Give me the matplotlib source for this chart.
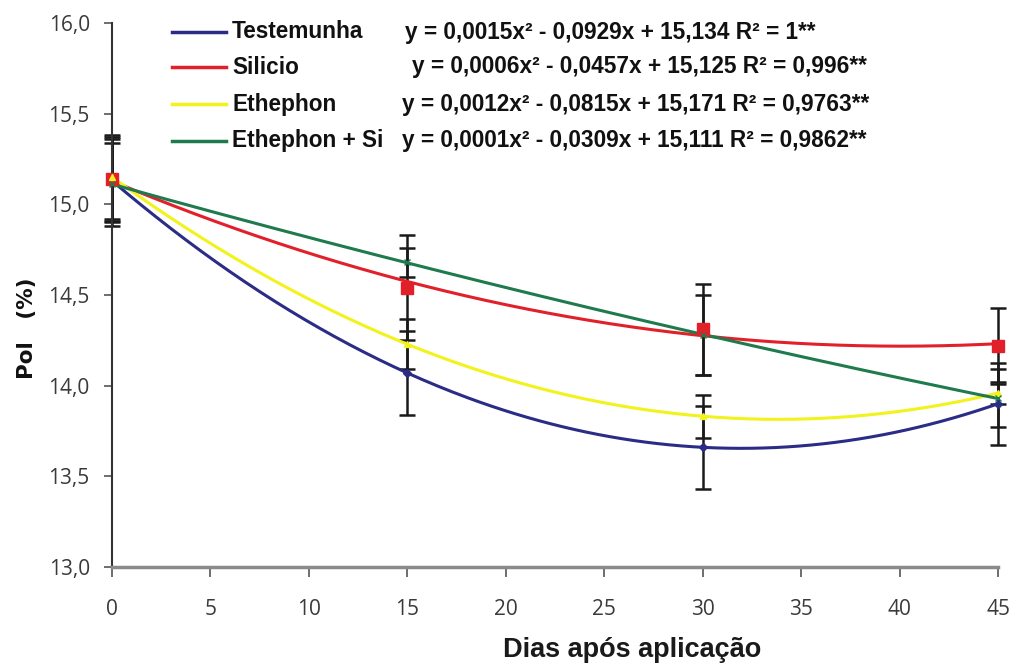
import numpy as np
import matplotlib
matplotlib.use("Agg")
import matplotlib.pyplot as plt
from matplotlib.ticker import FuncFormatter

# Sampling days and mean Pol (%) per treatment
days = [0, 15, 30, 45]
series_names = ["Testemunha", "Silicio", "Ethephon", "Ethephon + Si"]
pol_testemunha = [15.13, 14.07, 13.66, 13.90]
pol_silicio = [15.14, 14.54, 14.31, 14.22]
pol_ethephon = [15.15, 14.23, 13.83, 13.96]
pol_ethephon_si = [15.11, 14.68, 14.28, 13.93]

# Standard deviations drawn as error bars
err_testemunha = [0.23, 0.23, 0.23, 0.225]
err_silicio = [0.23, 0.29, 0.25, 0.21]
err_ethephon = [0.23, 0.14, 0.12, 0.06]
err_ethephon_si = [0.23, 0.08, 0.22, 0.16]

equations = [
    "y = 0,0015x² - 0,0929x + 15,134 R² = 1**",
    "y = 0,0006x² - 0,0457x + 15,125 R² = 0,996**",
    "y = 0,0012x² - 0,0815x + 15,171 R² = 0,9763**",
    "y = 0,0001x² - 0,0309x + 15,111 R² = 0,9862**",
]

x_ticks = [0, 5, 10, 15, 20, 25, 30, 35, 40, 45]
y_ticks = [13.0, 13.5, 14.0, 14.5, 15.0, 15.5, 16.0]

legend_font = ["Liberation Sans", "DejaVu Sans"]
tickfont = ["Open Sans", "DejaVu Sans"]

colors = ["#2B2C85", "#E2202A", "#F2F21C", "#1F7A4E"]
markers = ["D", "s", "^", "x"]
msizes = [4.5, 8, 4, 4]
means = [pol_testemunha, pol_silicio, pol_ethephon, pol_ethephon_si]
errs = [err_testemunha, err_silicio, err_ethephon, err_ethephon_si]

fig = plt.figure(figsize=(10.13, 6.68), dpi=100)
ax = fig.add_axes([112 / 1013, 1 - 567 / 668, (998 - 112) / 1013, (567 - 23) / 668])

xs = np.linspace(0, 45, 300)
for m, e in zip(means, errs):
    eb = ax.errorbar(days, m, yerr=e, fmt="none", ecolor="#1a1a1a", elinewidth=1.8,
                     capsize=5.5, capthick=1.8, zorder=2)
    for art in eb.lines[1] + eb.lines[2]:
        art.set_clip_on(False)

for name, m, c, mk, ms in zip(series_names, means, colors, markers, msizes):
    coef = np.polyfit(days, m, 2)
    ax.plot(xs, np.polyval(coef, xs), color=c, lw=2.2, zorder=3, clip_on=False)
    ax.plot(days, m, linestyle="none", marker=mk, color=c, ms=ms, zorder=4, clip_on=False)

ax.set_xlim(0, 45)
ax.set_ylim(13.0, 16.0)
ax.set_xticks(x_ticks)
ax.set_yticks(y_ticks)
ax.yaxis.set_major_formatter(FuncFormatter(lambda v, p: f"{v:.1f}".replace(".", ",")))

for s in ["top", "right"]:
    ax.spines[s].set_visible(False)
ax.spines["left"].set_color("#333333")
ax.spines["left"].set_linewidth(1.5)
ax.spines["bottom"].set_color("#8a8a8a")
ax.spines["bottom"].set_linewidth(2.5)
ax.tick_params(axis="y", length=6, width=1.2, color="#555555", pad=10,
               labelsize=15, labelcolor="#3a3a3a")
ax.tick_params(axis="x", length=7, width=1.2, color="#555555", pad=16,
               labelsize=15, labelcolor="#3a3a3a")
for lab in ax.get_xticklabels() + ax.get_yticklabels():
    lab.set_family(tickfont)

fig.text(27 / 1013, 1 - 328 / 668, "Pol   (%)", rotation=90, ha="center", va="center",
         fontsize=15.5, fontweight="bold", family=["DejaVu Sans"], color="#111111")
fig.text(632 / 1013, 1 - 650 / 668, "Dias após aplicação", ha="center", va="center",
         fontsize=19.5, fontweight="bold", family=legend_font, color="#1a1a1a")

# Legend rows with trend equations
row_y = [32, 67, 104, 141]
eq_x = [405, 412, 402, 402]
for name, c, yy, ex, eq in zip(series_names, colors, row_y, eq_x, equations):
    fy = 1 - yy / 668
    fig.add_artist(plt.Line2D([172 / 1013, 226 / 1013], [fy, fy], color=c, lw=2.5))
    fig.text(232 / 1013, fy, name, ha="left", va="center", fontsize=16.3,
             fontweight="bold", family=legend_font, color="#111111")
    fig.text(ex / 1013, fy, eq, ha="left", va="center", fontsize=16.3,
             fontweight="bold", family=legend_font, color="#111111")

fig.savefig("out.png", dpi=100, facecolor="white")
